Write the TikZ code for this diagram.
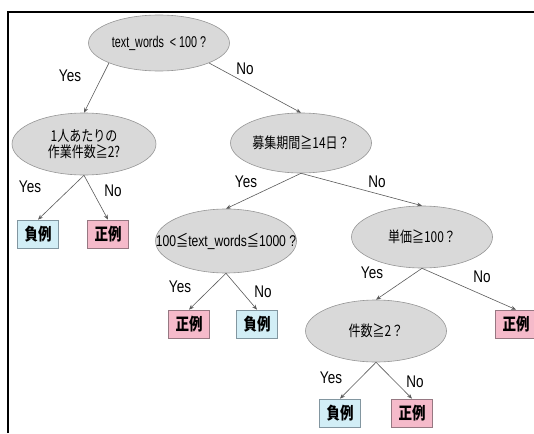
\documentclass[tikz,border=0pt]{standalone}
\usepackage{fontspec}
\usepackage{graphicx}
\setmainfont{Liberation Sans}
\newfontfamily\jp{Noto Sans CJK JP}
\usetikzlibrary{shapes.geometric,arrows.meta}
\definecolor{ellfill}{RGB}{217,217,217}
\definecolor{elldraw}{RGB}{150,150,150}
\definecolor{negfill}{RGB}{210,238,246}
\definecolor{negdraw}{RGB}{130,150,160}
\definecolor{posfill}{RGB}{245,186,202}
\definecolor{posdraw}{RGB}{150,120,130}
\definecolor{arr}{RGB}{90,90,90}
\newcommand{\ys}[1]{\scalebox{1}[1.25]{#1}}
\newcommand{\cs}[1]{\scalebox{0.86}[1.25]{#1}}
\newcommand{\ms}[1]{\scalebox{0.97}[1.25]{#1}}
\tikzset{
  cond/.style={ellipse, draw=elldraw, fill=ellfill, line width=0.6pt, inner sep=0pt,
    minimum width=141pt, minimum height=60pt, align=center,
    font=\fontsize{12}{14.5}\selectfont},
  condtext/.style={inner sep=0pt, align=center, font=\fontsize{12.5}{14}\selectfont},
  negbox/.style={rectangle, draw=negdraw, fill=negfill, line width=0.7pt, inner sep=0pt,
    minimum width=41pt, minimum height=28pt, font=\jp\bfseries\fontsize{13.5}{15}\selectfont},
  posbox/.style={negbox, draw=posdraw, fill=posfill},
  lab/.style={font=\fontsize{13.5}{15}\selectfont, inner sep=0pt},
  link/.style={draw=arr, line width=0.6pt, -{Stealth[length=5pt,width=4pt]}}
}
\begin{document}
\begin{tikzpicture}[x=1pt,y=-1pt]
\useasboundingbox (0,0) rectangle (534,433);
% frame
\draw[line width=2pt] (8,433) -- (8,12) -- (536,12);
% condition nodes
\node[cond] (root) at (159,43) [minimum height=56pt] {};
\node[condtext] (roott) at (root) {\cs{text\_words\ \ < 100 ?}};
\node[cond] (l1) at (84,144) [minimum width=144pt, minimum height=62pt] {};
\node[condtext, font=\fontsize{12}{14.5}\selectfont] (l1t) at (l1)
  {\ys{\jp 1人あたりの}\\[1pt]\ys{\jp 作業件数≧2?}};
\node[cond] (r1) at (301,143) {\ys{\jp 募集期間≧14日？}};
\node[cond] (m) at (226,241) [minimum height=64pt] {};
\node[condtext] (mt) at (m) {\ms{100{\jp ≦}text\_words{\jp ≦}1000 ?}};
\node[cond] (d) at (422,237) [minimum height=62pt] {\ys{\jp 単価≧100？}};
\node[cond] (k) at (376,331) [minimum height=62pt] {\ys{\jp 件数≧2？}};
% leaves
\node[negbox] (n1) at (38,234) {\ys{負例}};
\node[posbox] (p1) at (108,234) {\ys{正例}};
\node[posbox] (p2) at (189,324) {\ys{正例}};
\node[negbox] (n2) at (257,324) {\ys{負例}};
\node[posbox] (p3) at (516,324) {\ys{正例}};
\node[negbox] (n3) at (340,413) {\ys{負例}};
\node[posbox] (p4) at (412,413) {\ys{正例}};
% connectors
\draw[link] (root.south west) -- (l1.north);
\draw[link] (root.south east) -- (r1.north);
\draw[link] (l1.south) -- (n1.north);
\draw[link] (l1.south) -- (p1.north);
\draw[link] (r1.south) -- (m.north);
\draw[link] (r1.south) -- (d.north);
\draw[link] (m.south) -- (p2.north);
\draw[link] (m.south) -- (n2.north);
\draw[link] (d.south) -- (k.north);
\draw[link] (d.south) -- (p3.north);
\draw[link] (k.south) -- (n3.north);
\draw[link] (k.south) -- (p4.north);
% labels
\node[lab] (y1) at (70,76) {\ys{Yes}};
\node[lab] (o1) at (245,69) {\ys{No}};
\node[lab] (y2) at (30,187) {\ys{Yes}};
\node[lab] (o2) at (113,191) {\ys{No}};
\node[lab] (y3) at (246,182) {\ys{Yes}};
\node[lab] (o3) at (377,182) {\ys{No}};
\node[lab] (y4) at (180,287) {\ys{Yes}};
\node[lab] (o4) at (263,292) {\ys{No}};
\node[lab] (y5) at (372,273) {\ys{Yes}};
\node[lab] (o5) at (482,277) {\ys{No}};
\node[lab] (y6) at (331,378) {\ys{Yes}};
\node[lab] (o6) at (415,382) {\ys{No}};
\end{tikzpicture}
\end{document}
